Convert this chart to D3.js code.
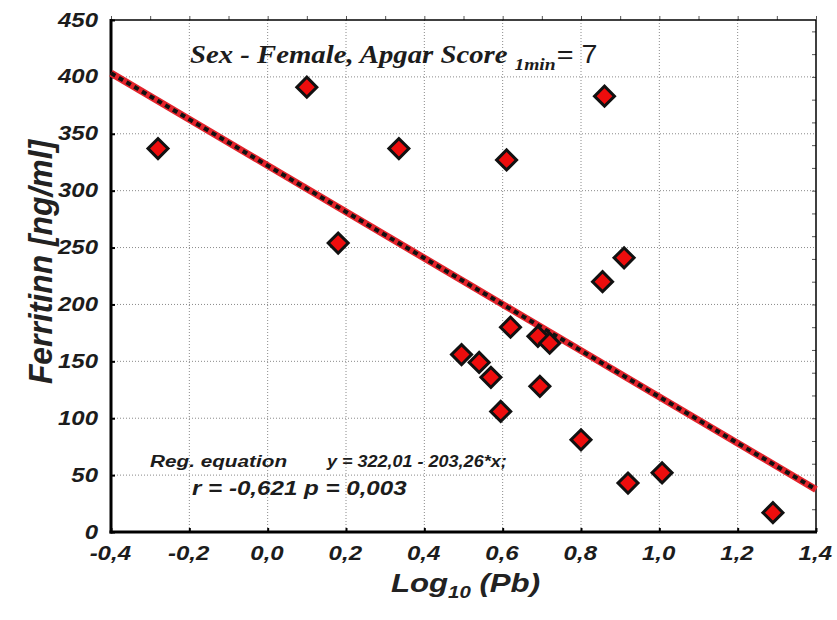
<!DOCTYPE html>
<html>
<head>
<meta charset="utf-8">
<script src="https://cdn.jsdelivr.net/npm/d3@7"></script>
<style>
  html, body { margin: 0; padding: 0; background: #fff; }
  svg { display: block; }
</style>
</head>
<body>
<svg id="chart" width="837" height="620"></svg>
<script>
// Log10(Pb) vs ferritin, female newborns with 1-min Apgar score 7
const logPb = [-0.28, 0.10, 0.18, 0.335, 0.61, 0.86, 0.91, 0.855, 0.62, 0.69,
               0.72, 0.495, 0.54, 0.57, 0.695, 0.595, 0.80, 0.92, 1.007, 1.29];
const ferritin = [337, 391, 254, 337, 327, 383, 241, 220, 180, 172,
                  166, 156, 149, 136, 128, 106, 81, 43, 52, 17];

// Fitted regression: y = intercept + slope * x
const intercept = 322.01;
const slope = -203.26;

const xTicks = [-0.4, -0.2, 0.0, 0.2, 0.4, 0.6, 0.8, 1.0, 1.2, 1.4];
const yTicks = [0, 50, 100, 150, 200, 250, 300, 350, 400, 450];

const svg = d3.select("#chart");
const m = { left: 111, top: 20, right: 21, bottom: 88 };
const W = 837 - m.left - m.right;
const H = 620 - m.top - m.bottom;

const x = d3.scaleLinear().domain([-0.4, 1.4]).range([0, W]);
const y = d3.scaleLinear().domain([0, 450]).range([H, 0]);

const g = svg.append("g").attr("transform", `translate(${m.left},${m.top})`);
const fmt = v => v.toFixed(1).replace(".", ",");
const SX = 1.2; // horizontal widening used for the lettering
const sans = "'Liberation Sans', Arial, sans-serif";
const ink = "#1c1c1c";

// dotted grid
g.append("g").selectAll("line").data(xTicks.slice(1, -1)).join("line")
  .attr("x1", d => x(d)).attr("x2", d => x(d)).attr("y1", 0).attr("y2", H)
  .attr("stroke", "#8a8a8a").attr("stroke-width", 1).attr("stroke-dasharray", "1,2");
g.append("g").selectAll("line").data(yTicks.slice(1, -1)).join("line")
  .attr("y1", d => y(d)).attr("y2", d => y(d)).attr("x1", 0).attr("x2", W)
  .attr("stroke", "#8a8a8a").attr("stroke-width", 1).attr("stroke-dasharray", "1,2");

// axes
const tickFont = `bold italic 20px ${sans}`;
const xAxis = g.append("g").attr("transform", `translate(0,${H})`)
  .call(d3.axisBottom(x).tickValues(xTicks).tickFormat(fmt).tickSize(-4).tickPadding(14));
const yAxis = g.append("g")
  .call(d3.axisLeft(y).tickValues(yTicks).tickFormat(d3.format("d")).tickSize(-4));
[xAxis, yAxis].forEach(a => {
  a.select(".domain").remove();
  a.selectAll(".tick line").attr("stroke", "#000").attr("stroke-width", 2);
  a.selectAll(".tick text").style("font", tickFont).attr("fill", ink);
});
xAxis.selectAll(".tick text").attr("dy", "0.7em")
  .attr("transform", `scale(${SX},1)`).attr("x", -1);
yAxis.selectAll(".tick text").attr("x", -13 / SX).attr("dy", "0.3em")
  .attr("transform", `scale(${SX},1)`);

// top / right ticks (with minor ticks)
const topAxis = g.append("g")
  .call(d3.axisTop(x).ticks(18).tickFormat("").tickSize(4));
const rightAxis = g.append("g").attr("transform", `translate(${W},0)`)
  .call(d3.axisRight(y).ticks(18).tickFormat("").tickSize(-4));
[topAxis, rightAxis].forEach(a => {
  a.select(".domain").remove();
  a.selectAll(".tick line").attr("stroke", "#555").attr("stroke-width", 1);
});

// frame
g.append("line").attr("x1", 0).attr("x2", W).attr("y1", 0).attr("y2", 0)
  .attr("stroke", "#000").attr("stroke-width", 1.5);
g.append("line").attr("x1", W).attr("x2", W).attr("y1", 0).attr("y2", H)
  .attr("stroke", "#000").attr("stroke-width", 1.5);
g.append("line").attr("x1", 0).attr("x2", 0).attr("y1", -1).attr("y2", H + 1.5)
  .attr("stroke", "#000").attr("stroke-width", 3);
g.append("line").attr("x1", -1.5).attr("x2", W + 1).attr("y1", H).attr("y2", H)
  .attr("stroke", "#000").attr("stroke-width", 3);

// regression line: red under a black dashed stroke
const fitPts = x.domain().map(v => [v, intercept + slope * v]);
const line = d3.line().x(d => x(d[0])).y(d => y(d[1]));
g.append("path").datum(fitPts).attr("d", line)
  .attr("stroke", "#e3232b").attr("stroke-width", 7).attr("fill", "none");
g.append("path").datum(fitPts).attr("d", line)
  .attr("stroke", "#111").attr("stroke-width", 4).attr("fill", "none")
  .attr("stroke-dasharray", "5,4");

// diamond markers
const pts = logPb.map((v, i) => ({ x: v, y: ferritin[i] }));
const diamond = d3.symbol().type(d3.symbolSquare).size(200);
g.append("g").selectAll("path").data(pts).join("path")
  .attr("d", diamond)
  .attr("transform", d => `translate(${x(d.x)},${y(d.y)}) rotate(45)`)
  .attr("fill", "#ee0d0d").attr("stroke", "#111").attr("stroke-width", 3);

// widened text placed at (px, py)
function label(px, py, sx) {
  return svg.append("text")
    .attr("transform", `translate(${px},${py}) scale(${sx},1)`)
    .attr("fill", ink);
}

// header annotation
const head = label(190, 63, 1.15)
  .style("font", "bold italic 25px 'Liberation Serif', 'DejaVu Serif', serif");
head.append("tspan").text("Sex - Female, Apgar Score");
head.append("tspan").attr("dx", 6).attr("dy", 7).style("font-size", "17px").text("1min");
head.append("tspan").attr("dy", -7).attr("dx", 1)
  .style("font", `25px ${sans}`).text("= 7");

// regression annotation
label(150, 467, 1.22).style("font", `bold italic 17px ${sans}`).text("Reg. equation");
label(327, 467, 1.06).style("font", `bold italic 17px ${sans}`)
  .text("y = 322,01 - 203,26*x;");
label(192, 495, 1.15).style("font", `bold italic 21px ${sans}`)
  .text("r = -0,621 p = 0,003");

// axis titles
const xt = label(m.left + W / 2 + 2, 592, 1.2).attr("text-anchor", "middle")
  .style("font", `bold italic 26px ${sans}`).attr("fill", "#222");
xt.append("tspan").text("Log");
xt.append("tspan").attr("dy", 6).style("font-size", "17px").text("10");
xt.append("tspan").attr("dy", -6).text(" (Pb)");

svg.append("text")
  .attr("transform", `translate(52,${m.top + 242}) rotate(-90) scale(1.18,1.2)`)
  .attr("text-anchor", "middle")
  .style("font", `bold italic 27px ${sans}`).attr("fill", "#222")
  .text("Ferritinn [ng/ml]");
</script>
</body>
</html>
